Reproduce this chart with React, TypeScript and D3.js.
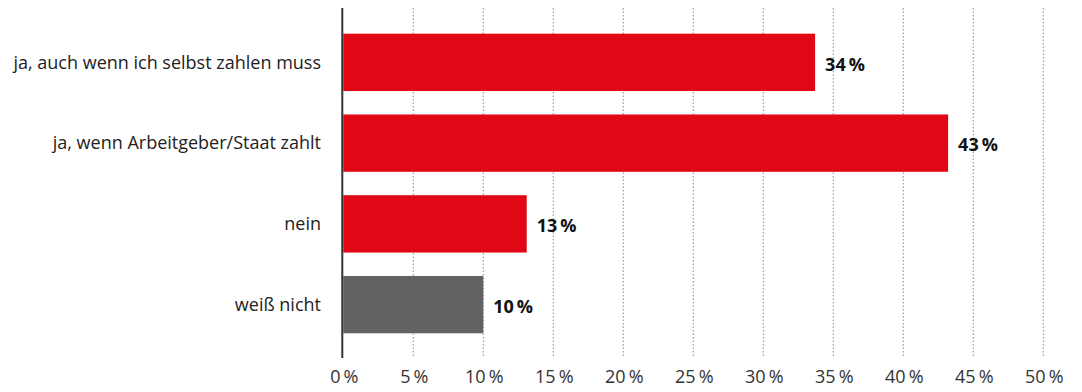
import React from "react";
import * as d3 from "d3";

const categories = [
  "ja, auch wenn ich selbst zahlen muss",
  "ja, wenn Arbeitgeber/Staat zahlt",
  "nein",
  "weiß nicht",
];
const values = [33.7, 43.2, 13.1, 10.0];
const valueLabels = ["34\u2009%", "43\u2009%", "13\u2009%", "10\u2009%"];
const barColors = ["#e20714", "#e20714", "#e20714", "#626262"];
const ticks = [0, 5, 10, 15, 20, 25, 30, 35, 40, 45, 50];

const W = 1082;
const H = 392;
const FONT = "'Open Sans', 'Noto Sans', sans-serif";

export default function App() {
  const x = d3.scaleLinear().domain([0, 50]).range([343.3, 1043.3]);
  const y = d3
    .scaleBand<string>()
    .domain(categories)
    .range([13.5, 353.5])
    .paddingInner(0.29)
    .paddingOuter(0.25);

  return (
    <svg
      width={W}
      height={H}
      style={{ position: "absolute", left: 0, top: 0, background: "#fff" }}
    >
      {ticks.slice(1).map((t) => (
        <line
          key={"g" + t}
          x1={x(t)}
          x2={x(t)}
          y1={8}
          y2={358}
          stroke="#8a8a8a"
          strokeWidth={1}
          strokeDasharray="1.5,2"
        />
      ))}
      {categories.map((c, i) => (
        <rect
          key={c}
          x={x(0)}
          y={y(c)}
          width={x(values[i]) - x(0)}
          height={y.bandwidth()}
          fill={barColors[i]}
        />
      ))}
      <line x1={342.3} x2={342.3} y1={8} y2={358} stroke="#333" strokeWidth={2} />
      {categories.map((c, i) => (
        <text
          key={"l" + c}
          x={321}
          y={(y(c) as number) + y.bandwidth() / 2}
          dy="0.35em"
          textAnchor="end"
          fontFamily={FONT}
          fontSize={18}
          fill="#222"
        >
          {c}
        </text>
      ))}
      {categories.map((c, i) => (
        <text
          key={"v" + c}
          x={x(values[i]) + 10}
          y={(y(c) as number) + y.bandwidth() / 2 + 2}
          dy="0.35em"
          fontFamily={FONT}
          fontSize={18}
          fontWeight="bold"
          fill="#111"
        >
          {valueLabels[i]}
        </text>
      ))}
      {ticks.map((t) => (
        <text
          key={"t" + t}
          x={x(t) + 1}
          y={383}
          textAnchor="middle"
          fontFamily={FONT}
          fontSize={18}
          fill="#333"
        >
          {t + "\u2009%"}
        </text>
      ))}
    </svg>
  );
}
